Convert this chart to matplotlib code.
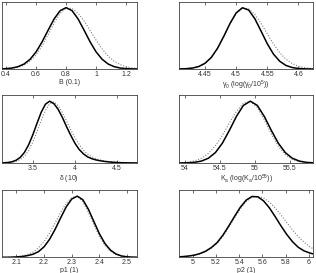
import matplotlib
matplotlib.use("Agg")
import matplotlib.pyplot as plt

plt.rcParams['font.family'] = ['Liberation Sans', 'DejaVu Sans']
plt.rcParams['mathtext.fontset'] = 'custom'
plt.rcParams['mathtext.rm'] = 'Liberation Sans'
plt.rcParams['mathtext.it'] = 'Liberation Sans'

# ---- Panel 1: B ----
b_x = [0.36, 0.40, 0.44, 0.48, 0.52, 0.56, 0.60, 0.64, 0.68, 0.72, 0.76, 0.80,
       0.84, 0.88, 0.92, 0.96, 1.00, 1.04, 1.08, 1.12, 1.16, 1.20, 1.24, 1.28]
b_solid = [0.002, 0.006, 0.016, 0.038, 0.081, 0.158, 0.278, 0.441, 0.631, 0.815, 0.950, 1.0,
           0.950, 0.815, 0.631, 0.441, 0.278, 0.158, 0.081, 0.038, 0.016, 0.006, 0.002, 0.001]
b_dot = [0.001, 0.004, 0.011, 0.028, 0.062, 0.125, 0.228, 0.375, 0.558, 0.749, 0.908, 0.993,
         0.986, 0.910, 0.783, 0.627, 0.468, 0.325, 0.210, 0.127, 0.071, 0.037, 0.018, 0.008]

# ---- Panel 2: gamma_0 ----
g_x = [4.40, 4.41, 4.42, 4.43, 4.44, 4.45, 4.46, 4.47, 4.48, 4.49, 4.50, 4.51,
       4.52, 4.53, 4.54, 4.55, 4.56, 4.57, 4.58, 4.59, 4.60, 4.61, 4.62, 4.63]
g_solid = [0.0004, 0.0016, 0.0055, 0.016, 0.041, 0.094, 0.189, 0.338, 0.532, 0.742, 0.915, 0.998,
           0.961, 0.819, 0.617, 0.411, 0.242, 0.126, 0.058, 0.024, 0.0085, 0.0027, 0.0008, 0.0002]
g_dot = [0.0005, 0.0018, 0.0058, 0.017, 0.042, 0.095, 0.188, 0.334, 0.522, 0.730, 0.905, 0.995,
         0.980, 0.889, 0.743, 0.572, 0.406, 0.266, 0.160, 0.089, 0.046, 0.022, 0.009, 0.004]

# ---- Panel 3: delta ----
d_x = [3.10, 3.15, 3.20, 3.25, 3.30, 3.35, 3.40, 3.45, 3.50, 3.55, 3.60, 3.65,
       3.70, 3.75, 3.80, 3.85, 3.90, 3.95, 4.00, 4.05, 4.10, 4.15, 4.20, 4.25,
       4.30, 4.35, 4.40, 4.45, 4.50, 4.55, 4.60, 4.65, 4.70, 4.75]
d_solid = [0.001, 0.003, 0.008, 0.019, 0.044, 0.091, 0.172, 0.295, 0.458, 0.645, 0.823, 0.952,
           1.0, 0.960, 0.870, 0.740, 0.590, 0.450, 0.320, 0.220, 0.150, 0.100, 0.070, 0.050,
           0.036, 0.026, 0.018, 0.012, 0.008, 0.005, 0.003, 0.002, 0.001, 0.0005]
d_dot = [0.0005, 0.001, 0.004, 0.010, 0.025, 0.055, 0.110, 0.200, 0.340, 0.510, 0.690, 0.850,
         0.960, 0.990, 0.930, 0.820, 0.680, 0.540, 0.410, 0.300, 0.210, 0.145, 0.100, 0.070,
         0.050, 0.035, 0.025, 0.017, 0.011, 0.007, 0.004, 0.002, 0.001, 0.0005]

# ---- Panel 4: K_a ----
k_x = [53.84, 53.94, 54.04, 54.14, 54.24, 54.34, 54.44, 54.54, 54.64, 54.74, 54.84,
       54.94, 55.04, 55.14, 55.24, 55.34, 55.44, 55.54, 55.64, 55.74, 55.84]
k_solid = [0.0002, 0.0008, 0.0031, 0.0105, 0.031, 0.077, 0.168, 0.320, 0.527, 0.752, 0.931,
           1.0, 0.931, 0.752, 0.527, 0.320, 0.168, 0.077, 0.031, 0.0105, 0.0031]
k_dot = [0.0015, 0.0048, 0.0135, 0.034, 0.076, 0.154, 0.278, 0.448, 0.647, 0.835, 0.965,
         0.997, 0.899, 0.699, 0.469, 0.271, 0.135, 0.058, 0.0215, 0.007, 0.0019]

# ---- Panel 5: p1 ----
p1_x = [2.04, 2.06, 2.08, 2.10, 2.12, 2.14, 2.16, 2.18, 2.20, 2.22, 2.24, 2.26, 2.28,
        2.30, 2.32, 2.34, 2.36, 2.38, 2.40, 2.42, 2.44, 2.46, 2.48, 2.50, 2.52, 2.54]
p1_solid = [0.0001, 0.0003, 0.0015, 0.006, 0.013, 0.027, 0.050, 0.093, 0.172, 0.295, 0.458, 0.645, 0.823,
            0.952, 1.0, 0.942, 0.788, 0.586, 0.386, 0.226, 0.118, 0.054, 0.022, 0.008, 0.0026, 0.0007]
p1_dot = [0.0004, 0.0013, 0.0036, 0.009, 0.021, 0.044, 0.086, 0.155, 0.259, 0.398, 0.563, 0.734, 0.883,
          0.977, 0.996, 0.911, 0.740, 0.534, 0.342, 0.194, 0.098, 0.044, 0.0175, 0.006, 0.002, 0.0005]

# ---- Panel 6: p2 ----
p2_x = [4.86, 4.91, 4.96, 5.01, 5.06, 5.11, 5.16, 5.21, 5.26, 5.31, 5.36, 5.41, 5.46,
        5.51, 5.56, 5.61, 5.66, 5.71, 5.76, 5.81, 5.86, 5.91, 5.96, 6.01, 6.06]
p2_solid = [0.006, 0.011, 0.020, 0.034, 0.060, 0.100, 0.160, 0.242, 0.364, 0.512, 0.670, 0.819, 0.934,
            0.994, 0.989, 0.923, 0.810, 0.667, 0.516, 0.375, 0.256, 0.164, 0.105, 0.070, 0.045]
p2_dot = [0.005, 0.010, 0.018, 0.031, 0.055, 0.093, 0.150, 0.230, 0.345, 0.490, 0.645, 0.790, 0.910,
          0.980, 0.995, 0.970, 0.904, 0.808, 0.693, 0.569, 0.449, 0.340, 0.247, 0.172, 0.115]

panels = [
    (b_x, b_solid, b_dot, (0.37, 1.27), [0.4, 0.6, 0.8, 1.0, 1.2], ['0.4', '0.6', '0.8', '1', '1.2'],
     'B (0.1)'),
    (g_x, g_solid, g_dot, (4.408, 4.624), [4.45, 4.5, 4.55, 4.6], ['4.45', '4.5', '4.55', '4.6'],
     r'$\gamma_0$ (log($\gamma_0$/10$^5$))'),
    (d_x, d_solid, d_dot, (3.127, 4.735), [3.5, 4.0, 4.5], ['3.5', '4', '4.5'],
     r'$\delta$ (10)'),
    (k_x, k_solid, k_dot, (53.92, 55.84), [54, 54.5, 55, 55.5], ['54', '54.5', '55', '55.5'],
     r'K$_a$ (log(K$_a$/10$^{55}$))'),
    (p1_x, p1_solid, p1_dot, (2.046, 2.535), [2.1, 2.2, 2.3, 2.4, 2.5], ['2.1', '2.2', '2.3', '2.4', '2.5'],
     'p1 (1)'),
    (p2_x, p2_solid, p2_dot, (4.88, 6.04), [5, 5.2, 5.4, 5.6, 5.8, 6], ['5', '5.2', '5.4', '5.6', '5.8', '6'],
     'p2 (1)'),
]

W, H = 316, 273
fig = plt.figure(figsize=(W / 100, H / 100), dpi=100)

cols = [(1.5, 136.7), (179.0, 313.3)]
rows = [(1.5, 69.0), (95.0, 163.0), (190.0, 257.3)]

for i, (x, ys, yd, xl, ticks, tlabels, label) in enumerate(panels):
    r, c = divmod(i, 2)
    x0, x1 = cols[c]
    t, b = rows[r]
    ax = fig.add_axes([x0 / W, (H - b) / H, (x1 - x0) / W, (b - t) / H])
    ax.plot(x, yd, linestyle=(0, (1, 1.5)), color='0.5', lw=0.8)
    ax.plot(x, ys, color='black', lw=1.1)
    ax.set_xlim(*xl)
    ax.set_ylim(0, 1.1)
    ax.set_yticks([])
    ax.set_xticks(ticks)
    ax.set_xticklabels(tlabels)
    ax.tick_params(axis='x', direction='in', length=2, width=0.5, top=True,
                   labelsize=5, pad=1.5, colors='0.2')
    for s in ax.spines.values():
        s.set_linewidth(0.6)
        s.set_color('0.25')
    ax.set_xlabel(label, fontsize=5, labelpad=0.5, color='0.2')

fig.savefig('out.png', dpi=100)
